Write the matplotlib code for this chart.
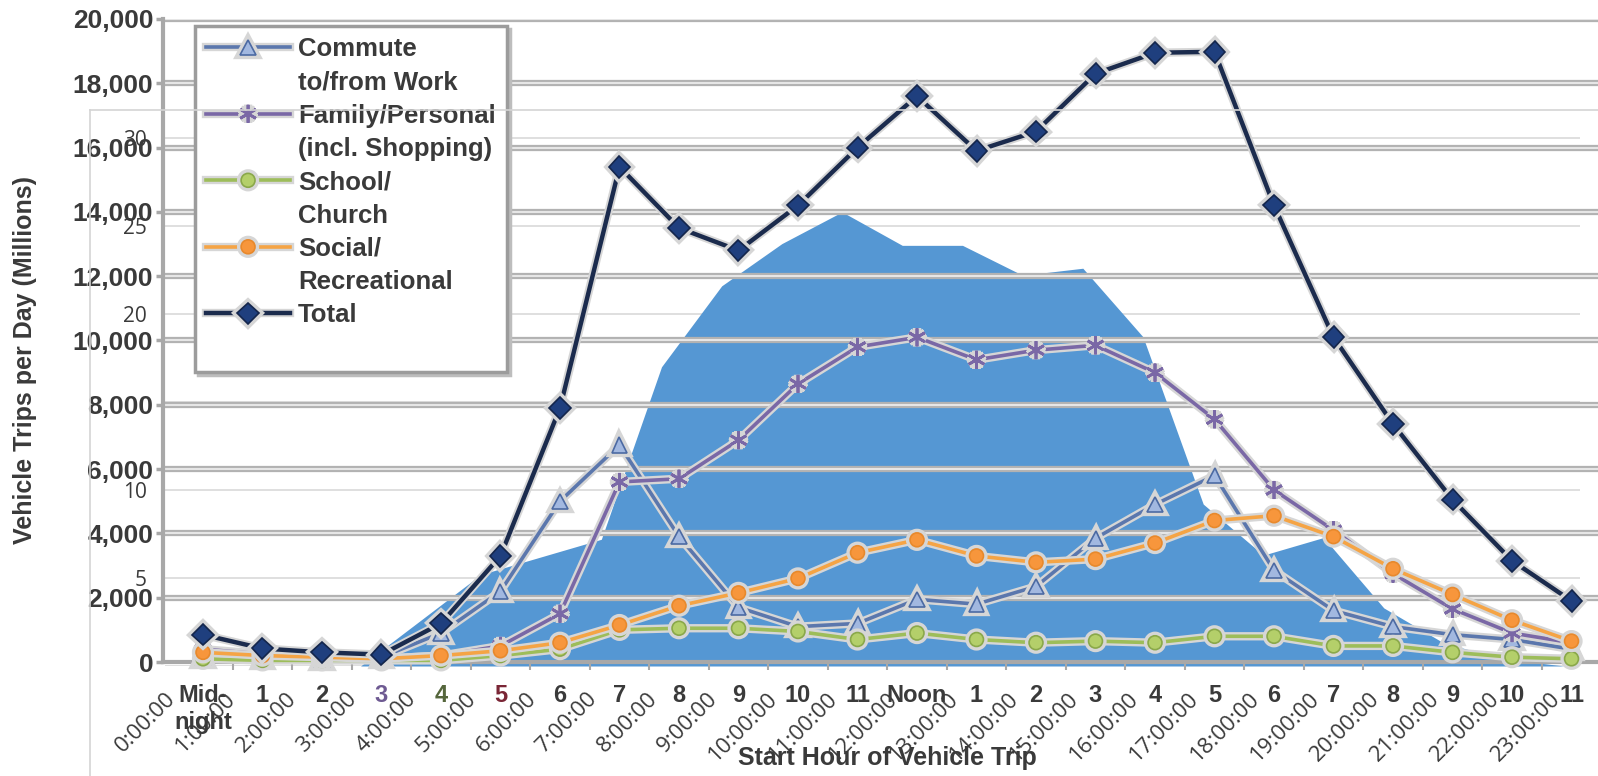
import numpy as np
import matplotlib.pyplot as plt
import matplotlib.patheffects as pe
from matplotlib.lines import Line2D
from matplotlib.ticker import StrMethodFormatter

# ---- data ----
hours = list(range(24))
hour_labels = ["Mid-\nnight", "1", "2", "3", "4", "5", "6", "7", "8", "9", "10", "11",
               "Noon", "1", "2", "3", "4", "5", "6", "7", "8", "9", "10", "11"]

commute = [150, 100, 80, 150, 900, 2200, 5000, 6750, 3900, 1700, 1100, 1200,
           1950, 1800, 2350, 3850, 4900, 5800, 2850, 1600, 1100, 850, 700, 400]
family = [400, 250, 150, 100, 200, 500, 1500, 5600, 5700, 6900, 8650, 9800,
          10100, 9400, 9700, 9850, 9000, 7550, 5350, 4100, 2750, 1650, 900, 600]
school = [100, 50, 50, 50, 50, 200, 400, 1000, 1050, 1050, 950, 700,
          900, 700, 600, 650, 600, 800, 800, 500, 500, 300, 150, 100]
social = [300, 200, 150, 100, 200, 350, 600, 1150, 1750, 2150, 2600, 3400,
          3800, 3300, 3100, 3200, 3700, 4400, 4550, 3900, 2900, 2100, 1300, 650]
total = [850, 420, 300, 230, 1200, 3300, 7900, 15400, 13500, 12800, 14200, 16000,
         17600, 15900, 16500, 18300, 18950, 18980, 14200, 10100, 7400, 5050, 3150, 1900]

excel_yticks = list(range(0, 20001, 2000))

# second (overlaid) chart: blue area on its own 0-30 scale
overlay_labels = [f"{h}:00:00" for h in hours]
overlay_yticks = [0, 5, 10, 15, 20, 25, 30]
overlay_ytick_text = ["", "5", "10", "", "20", "25", "30"]
area = [0, 0, 0, 0, 2.6, 5.2, 6.2, 7.2, 17.0, 21.6, 24.0, 25.8,
        23.9, 23.9, 22.2, 22.6, 18.7, 9.2, 6.3, 7.3, 3.3, 1.3, 0.4, 0]

W, H = 1598, 776


def rect(left, top, right, bottom):
    return [left / W, 1 - bottom / H, (right - left) / W, (bottom - top) / H]


fig = plt.figure(figsize=(W / 100, H / 100), dpi=100, facecolor="white")

# ---------------- overlay chart (grid, labels, blue area) ----------------
ax_o = fig.add_axes(rect(165, 110, 1580, 666))
ax_o.set_facecolor("none")
ax_o.set_xlim(-0.249, 23.26)
ax_o.set_ylim(0, 31.59)
ax_o.fill_between(hours, area, 0, color="#5597D3", lw=0, zorder=2)
ax_o.set_xticks(hours)
ax_o.set_xticklabels(overlay_labels, rotation=45, ha="right", va="top",
                     fontfamily="Open Sans", fontsize=16, color="#3a3a3a")
ax_o.set_yticks(overlay_yticks)
ax_o.set_yticklabels(overlay_ytick_text,
                     fontfamily="Open Sans", fontsize=15, color="#3a3a3a")
ax_o.tick_params(axis="x", length=0, pad=16)
ax_o.tick_params(axis="y", length=0, pad=13)
ax_o.grid(axis="y", color="#d9d9d9", lw=1.2, zorder=1)
ax_o.grid(axis="x", visible=False)
ax_o.set_axisbelow(True)
for s in ax_o.spines.values():
    s.set_visible(False)

# overlay chart frame (left and top border)
fig.add_artist(Line2D([90 / W, 90 / W], [0, 1 - 110 / H], color="#d4d4d4", lw=1.2))
fig.add_artist(Line2D([90 / W, 1], [1 - 110 / H, 1 - 110 / H], color="#d4d4d4", lw=1.2))

# ---------------- main (Excel) chart ----------------
ax_e = fig.add_axes(rect(163, 19, 1598, 662))
ax_e.set_facecolor("none")
ax_e.set_xlim(-0.672, 23.445)
ax_e.set_ylim(0, 20000)

for v in excel_yticks[1:]:
    ax_e.axhline(v, color="#b2b2b2", lw=4.5, zorder=1)
    ax_e.axhline(v, color="#e6e6e6", lw=1.5, zorder=1.1)

txt_kw = dict(fontfamily="Liberation Sans", fontweight="bold", color="#3a3a3a")

ax_e.set_yticks(excel_yticks)
ax_e.yaxis.set_major_formatter(StrMethodFormatter("{x:,.0f}"))
ax_e.tick_params(axis="y", length=5, width=2.5, color="#a8a8a8", pad=2, labelsize=19)
ax_e.set_xticks(hours)
ax_e.set_xticklabels(hour_labels)
ax_e.set_xticks(np.arange(0.5, 23, 1), minor=True)
ax_e.tick_params(axis="x", which="major", length=0, pad=16, labelsize=17)
ax_e.tick_params(axis="x", which="minor", length=6, width=1.5, color="#a8a8a8")
for lab in ax_e.get_xticklabels() + ax_e.get_yticklabels():
    lab.set_fontfamily("Liberation Sans")
    lab.set_fontweight("bold")
    lab.set_color("#3a3a3a")
odd_colors = {3: "#6e5a92", 4: "#55663c", 5: "#7a2636"}
for i, lab in enumerate(ax_e.get_xticklabels()):
    if i in odd_colors:
        lab.set_color(odd_colors[i])

for side in ["top", "right"]:
    ax_e.spines[side].set_visible(False)
for side in ["left", "bottom"]:
    ax_e.spines[side].set_color("#a8a8a8")
    ax_e.spines[side].set_linewidth(3)

ax_e.set_ylabel("Vehicle Trips per Day (Millions)", fontsize=18, **txt_kw)
ax_e.yaxis.set_label_coords(-0.088, 0.47)
ax_e.set_xlabel("Start Hour of Vehicle Trip", fontsize=18, **txt_kw)
ax_e.xaxis.set_label_coords(0.505, -0.13)

series = [
    ("Commute", "to/from Work", commute, "#5b77ad", "^", 11, "#a2b8e0", "#4c6aa3"),
    ("Family/Personal", "(incl. Shopping)", family, "#7a68a6", (6, 2, 0), 13, "#8f7fbf", "#7a68a6"),
    ("School/", "Church", school, "#9dbd5a", "o", 10, "#b4cf6a", "#8aa84a"),
    ("Social/", "Recreational", social, "#f5a445", "o", 10, "#f7963c", "#e8892c"),
    ("Total", None, total, "#1b2b4d", "D", 11, "#1f3f7e", "#14264c"),
]

halo = [pe.Stroke(linewidth=6, foreground="#d6d6d6"), pe.Normal()]
handles, labels = [], []
blank = Line2D([], [], linestyle="none")
for first, second, vals, col, mk, ms, mfc, mec in series:
    lw = 3.2 if first == "Total" else 2.6
    ln, = ax_e.plot(hours, vals, color=col, lw=lw, marker=mk, ms=ms, mfc=mfc,
                    mec=mec, mew=2 if mk == (6, 2, 0) else 1.2, zorder=3,
                    path_effects=halo, clip_on=False)
    handles.append(ln)
    labels.append(first)
    if second:
        handles.append(blank)
        labels.append(second)
# empty row keeps the blank strip at the bottom of the legend box
handles.append(blank)
labels.append(" ")

leg = ax_e.legend(handles, labels, loc="upper left",
                  bbox_to_anchor=(195 / W, 1 - 26 / H), bbox_transform=fig.transFigure,
                  prop={"family": "Liberation Sans", "weight": "bold", "size": 18.5},
                  handlelength=3.25, handletextpad=0.32, labelspacing=0.36,
                  borderpad=0.44, borderaxespad=0, fancybox=False, framealpha=1,
                  shadow={"facecolor": "#bdbdbd", "edgecolor": "#bdbdbd", "alpha": 1})
leg.get_frame().set_edgecolor("#9c9c9c")
leg.get_frame().set_linewidth(2.5)
for t in leg.get_texts():
    t.set_color("#3a3a3a")
leg.set_zorder(5)

fig.savefig("out.png", dpi=100, facecolor="white")
